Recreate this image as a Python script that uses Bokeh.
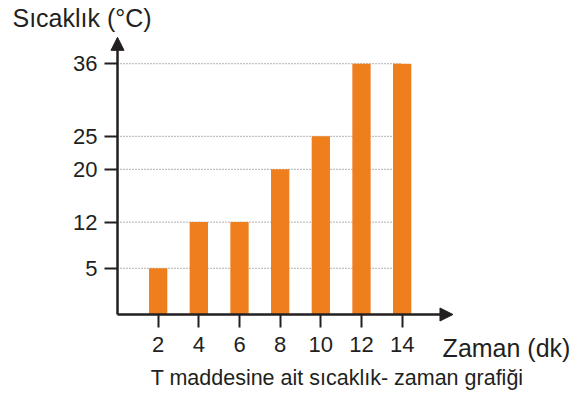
from bokeh.plotting import figure
from bokeh.models import FixedTicker, Arrow, NormalHead, Label, Range1d
from bokeh.embed import file_html
from bokeh.resources import INLINE

# ---- data ----
zaman = [2, 4, 6, 8, 10, 12, 14]          # time (min)
sicaklik = [5, 12, 12, 20, 25, 36, 36]    # temperature (°C)
y_ticks = [5, 12, 20, 25, 36]
x_ticks = [2, 4, 6, 8, 10, 12, 14]

y_title = "Sıcaklık (°C)"
x_title = "Zaman (dk)"
caption = "T maddesine ait sıcaklık- zaman grafiği"

# ---- style ----
FONT = "Liberation Sans"
TEXT = "#231f20"
BAR = "#ee7f1c"
GRID = "#666666"
BASE = -2  # where the x axis sits

p = figure(width=570, height=400,
           x_range=Range1d(-5.755, 22.28), y_range=Range1d(-15.03, 45.58),
           output_backend="svg", toolbar_location=None,
           min_border=0, min_border_left=0, min_border_right=0,
           min_border_top=0, min_border_bottom=0)
p.outline_line_color = None
p.xgrid.visible = False
p.ygrid.visible = False
p.background_fill_color = "white"
p.border_fill_color = "white"

# dotted guide lines from the y axis to the last bar
p.segment(x0=[0] * len(y_ticks), x1=[max(zaman)] * len(y_ticks),
          y0=y_ticks, y1=y_ticks,
          line_color=GRID, line_width=1, line_dash="1 2")

# bars
p.vbar(x=zaman, top=sicaklik, bottom=BASE, width=0.9,
       fill_color=BAR, line_color=None)

# axes (placed inside the frame)
p.xaxis.ticker = FixedTicker(ticks=x_ticks)
p.yaxis.ticker = FixedTicker(ticks=y_ticks)
p.xaxis.fixed_location = BASE
p.yaxis.fixed_location = 0
for ax in (p.xaxis[0], p.yaxis[0]):
    ax.axis_line_color = None
    ax.major_tick_out = 13
    ax.major_tick_in = 0
    ax.minor_tick_line_color = None
    ax.major_tick_line_width = 2
    ax.major_tick_line_color = TEXT
    ax.major_label_text_font = FONT
    ax.major_label_text_font_size = "22px"
    ax.major_label_text_color = TEXT
p.yaxis.major_label_standoff = 7
p.xaxis.major_label_standoff = 9

# arrow axes
p.add_layout(Arrow(end=NormalHead(size=13, fill_color=TEXT, line_color=TEXT, line_width=1),
                   x_start=0, y_start=BASE, x_end=16.5, y_end=BASE,
                   line_color=TEXT, line_width=2.5))
p.add_layout(Arrow(end=NormalHead(size=13, fill_color=TEXT, line_color=TEXT, line_width=1),
                   x_start=0, y_start=BASE, x_end=0, y_end=40,
                   line_color=TEXT, line_width=2.5))

# texts
p.add_layout(Label(x=-5.165, y=43.0, text=y_title, text_font=FONT,
                   text_font_size="25px", text_color=TEXT,
                   text_align="left", text_baseline="alphabetic"))
p.add_layout(Label(x=15.99, y=-7.0, text=x_title, text_font=FONT,
                   text_font_size="25px", text_color=TEXT,
                   text_align="left", text_baseline="alphabetic"))
p.add_layout(Label(x=10.80, y=-11.55, text=caption, text_font=FONT,
                   text_font_size="21.5px", text_color=TEXT,
                   text_align="center", text_baseline="alphabetic"))

open("out.html", "w").write(file_html(p, INLINE))
